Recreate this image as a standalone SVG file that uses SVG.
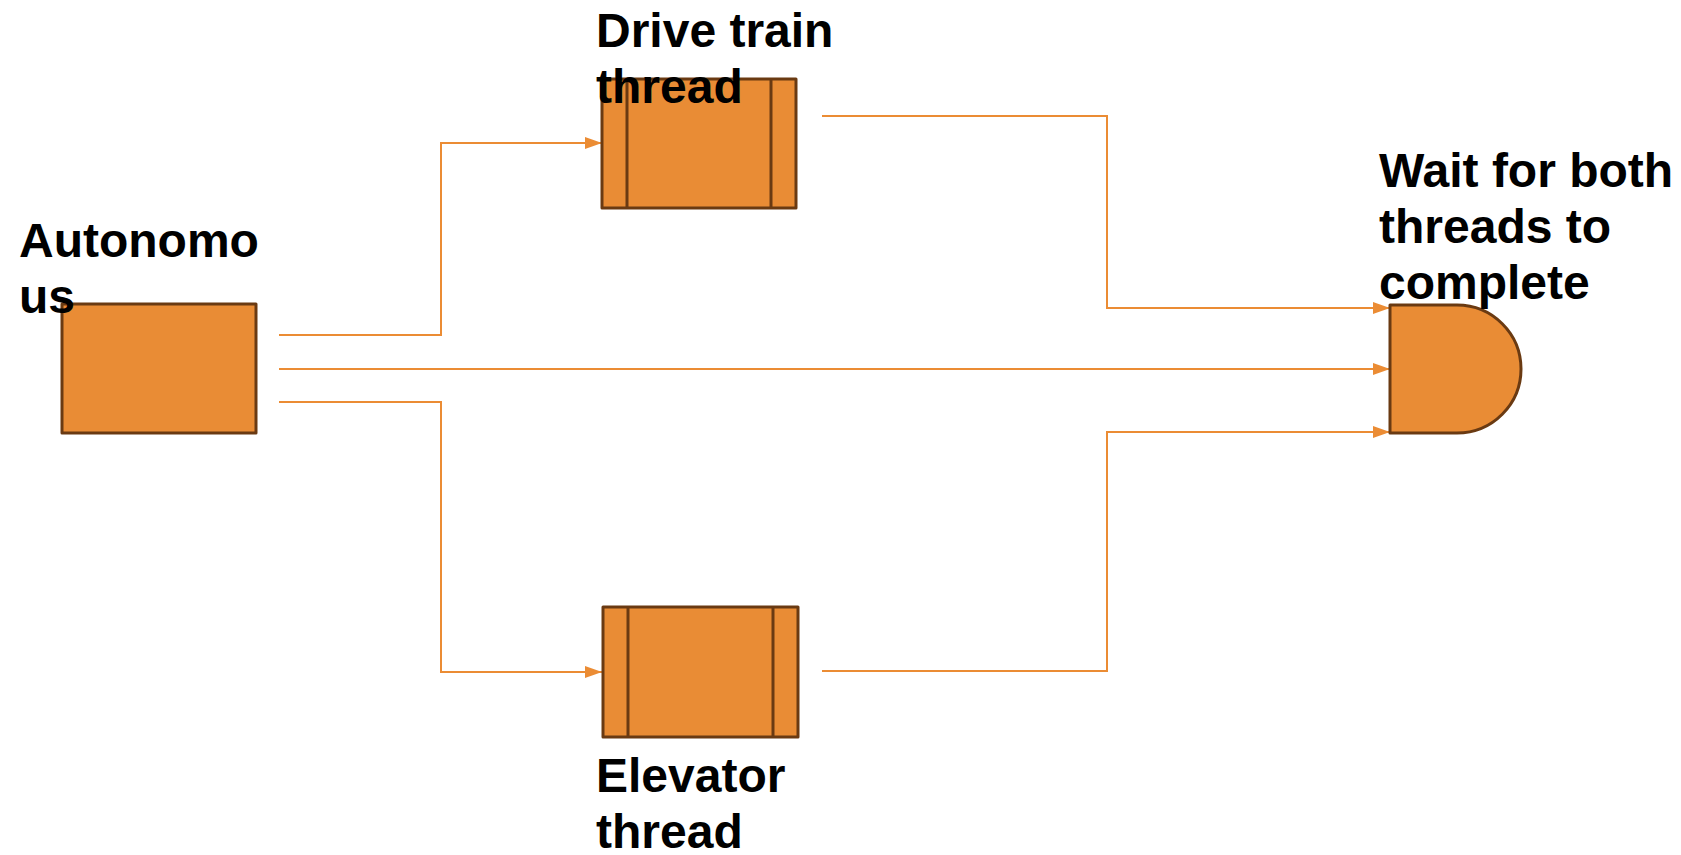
<svg xmlns="http://www.w3.org/2000/svg" width="1681" height="855" viewBox="0 0 1681 855">
<defs>
<style>
.node{fill:#E98C35;stroke:#6A3A12;stroke-width:3;stroke-linejoin:round}
.bar{fill:none;stroke:#6A3A12;stroke-width:3}
.conn{fill:none;stroke:#EB8C34;stroke-width:2}
.lbl{font-family:"Liberation Sans",Arial,sans-serif;font-weight:bold;font-size:48px;fill:#000}
</style>
<marker id="arr" viewBox="0 0 17 12" refX="17" refY="6" markerWidth="17" markerHeight="12" markerUnits="userSpaceOnUse" orient="auto">
<path d="M0,0 L17,6 L0,12 Z" fill="#EB8C34"/>
</marker>
</defs>
<rect width="1681" height="855" fill="#fff"/>
<g id="connectors">
<polyline class="conn" points="279,335 441,335 441,143 602,143" marker-end="url(#arr)"/>
<polyline class="conn" points="279,369 1390,369" marker-end="url(#arr)"/>
<polyline class="conn" points="279,402 441,402 441,672 602,672" marker-end="url(#arr)"/>
<polyline class="conn" points="822,116 1107,116 1107,308 1390,308" marker-end="url(#arr)"/>
<polyline class="conn" points="822,671 1107,671 1107,432 1390,432" marker-end="url(#arr)"/>
</g>
<g id="autonomous">
<rect class="node" x="62" y="304" width="194" height="129"/>
<text class="lbl" x="19" y="257">Autonomo</text>
<text class="lbl" x="19" y="313">us</text>
</g>
<g id="drive-train">
<rect class="node" x="602" y="79" width="194" height="129"/>
<line class="bar" x1="627" y1="79" x2="627" y2="208"/>
<line class="bar" x1="771" y1="79" x2="771" y2="208"/>
<text class="lbl" x="596" y="47">Drive train</text>
<text class="lbl" x="596" y="103">thread</text>
</g>
<g id="elevator">
<rect class="node" x="603" y="607" width="195" height="130"/>
<line class="bar" x1="628" y1="607" x2="628" y2="737"/>
<line class="bar" x1="773" y1="607" x2="773" y2="737"/>
<text class="lbl" x="596" y="792">Elevator</text>
<text class="lbl" x="596" y="848">thread</text>
</g>
<g id="wait">
<path class="node" d="M1390,305 L1457,305 A64,64 0 0 1 1457,433 L1390,433 Z"/>
<text class="lbl" x="1379" y="187">Wait for both</text>
<text class="lbl" x="1379" y="243">threads to</text>
<text class="lbl" x="1379" y="299">complete</text>
</g>
</svg>
